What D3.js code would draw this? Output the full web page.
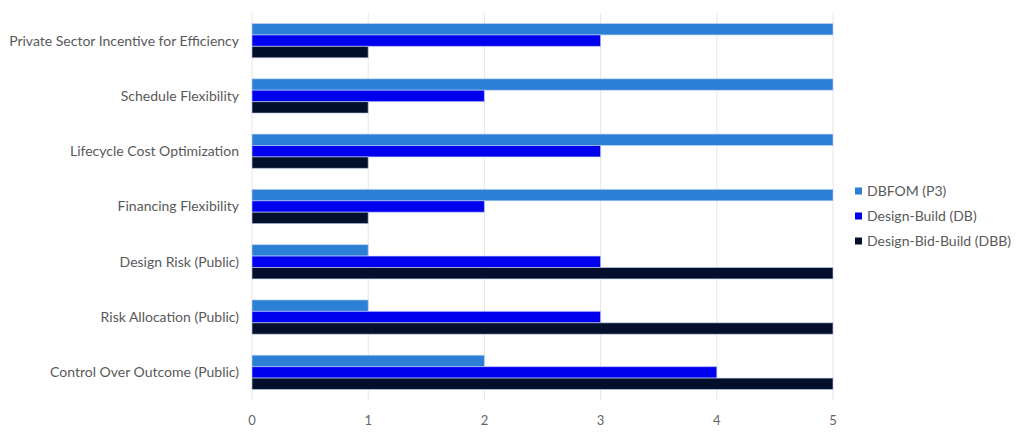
<!DOCTYPE html>
<meta charset="utf-8">
<script src="https://d3js.org/d3.v7.min.js"></script>
<style>
  body { margin: 0; background: #fff; }
  text { font-family: "Lato", "Open Sans", sans-serif; }
</style>
<div id="chart"></div>
<script>
// data
var categories = [
  "Private Sector Incentive for Efficiency",
  "Schedule Flexibility",
  "Lifecycle Cost Optimization",
  "Financing Flexibility",
  "Design Risk (Public)",
  "Risk Allocation (Public)",
  "Control Over Outcome (Public)"
];
var seriesNames = ["DBFOM (P3)", "Design-Build (DB)", "Design-Bid-Build (DBB)"];
var dbfom = [5, 5, 5, 5, 1, 1, 2];
var db    = [3, 2, 3, 2, 3, 3, 4];
var dbb   = [1, 1, 1, 1, 5, 5, 5];
var xTicks = [0, 1, 2, 3, 4, 5];

var seriesValues = [dbfom, db, dbb];
var colors = ["#2b7fd4", "#0000ee", "#04102b"];

var width = 1024, height = 435;
var margin = {top: 13, right: 191, bottom: 35, left: 252};

var svg = d3.select("#chart").append("svg")
  .attr("width", width)
  .attr("height", height);

var x = d3.scaleLinear()
  .domain([0, 5])
  .range([margin.left, width - margin.right]);

var y = d3.scaleBand()
  .domain(categories)
  .range([margin.top, height - margin.bottom])
  .paddingInner(0.38)
  .paddingOuter(0.19);

var y1 = d3.scaleBand()
  .domain(d3.range(seriesNames.length))
  .range([0, y.bandwidth()]);

// gridlines
svg.append("g")
  .selectAll("line")
  .data(xTicks)
  .join("line")
    .attr("x1", function(d) { return x(d); })
    .attr("x2", function(d) { return x(d); })
    .attr("y1", margin.top)
    .attr("y2", height - margin.bottom)
    .attr("stroke", "#e6e6e6")
    .attr("stroke-width", 1);

// bars
var groups = svg.append("g")
  .selectAll("g")
  .data(categories)
  .join("g")
    .attr("transform", function(d) { return "translate(0," + y(d) + ")"; });

groups.selectAll("rect")
  .data(function(d, i) {
    return seriesValues.map(function(vals, s) { return {s: s, v: vals[i]}; });
  })
  .join("rect")
    .attr("x", x(0))
    .attr("y", function(d) { return y1(d.s); })
    .attr("width", function(d) { return x(d.v) - x(0); })
    .attr("height", y1.bandwidth())
    .attr("fill", function(d) { return colors[d.s]; })
    .attr("stroke", "rgba(200,215,255,0.6)")
    .attr("stroke-width", 1);

// y labels
svg.append("g")
  .selectAll("text")
  .data(categories)
  .join("text")
    .attr("x", margin.left - 13)
    .attr("y", function(d) { return y(d) + y.bandwidth() / 2; })
    .attr("dy", "0.35em")
    .attr("text-anchor", "end")
    .attr("font-size", 14)
    .attr("fill", "#595959")
    .text(function(d) { return d; });

// x axis labels
svg.append("g")
  .selectAll("text")
  .data(xTicks)
  .join("text")
    .attr("x", function(d) { return x(d); })
    .attr("y", 420)
    .attr("dy", "0.35em")
    .attr("text-anchor", "middle")
    .attr("font-size", 13)
    .attr("fill", "#666")
    .text(function(d) { return d; });

// legend
var legend = svg.append("g")
  .attr("transform", "translate(855,191)");

var items = legend.selectAll("g")
  .data(seriesNames)
  .join("g")
    .attr("transform", function(d, i) { return "translate(0," + (i * 25) + ")"; });

items.append("rect")
  .attr("x", 0)
  .attr("y", -3.5)
  .attr("width", 7)
  .attr("height", 7)
  .attr("fill", function(d, i) { return colors[i]; });

items.append("text")
  .attr("x", 12)
  .attr("y", 0)
  .attr("dy", "0.35em")
  .attr("font-size", 14)
  .attr("fill", "#595959")
  .text(function(d) { return d; });
</script>
